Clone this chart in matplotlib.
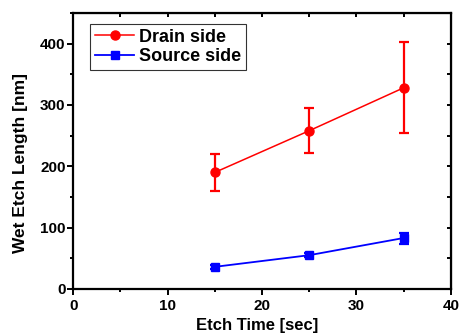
import matplotlib
matplotlib.use("Agg")
import matplotlib.pyplot as plt
from matplotlib.ticker import MultipleLocator
from matplotlib.lines import Line2D

plt.rcParams['font.family'] = ['Liberation Sans', 'DejaVu Sans']
plt.rcParams['font.weight'] = 'bold'

etch_time = [15, 25, 35]
drain = [190, 258, 328]
drain_err = [30, 37, 74]
source = [36, 55, 83]
source_err = [3, 3, 9]

fig = plt.figure(figsize=(4.6, 3.34), dpi=100)
ax = fig.add_axes([0.159, 0.135, 0.821, 0.826])

ax.errorbar(etch_time, drain, yerr=drain_err, color='#ff0000', marker='o', markersize=6.5,
            lw=1.1, elinewidth=1.6, capsize=3.5, capthick=1.6)
ax.errorbar(etch_time, source, yerr=source_err, color='#0000ff', marker='s', markersize=6,
            lw=1.3, elinewidth=1.6, capsize=3.5, capthick=1.6)

ax.set_xlim(0, 40)
ax.set_ylim(0, 450)
ax.xaxis.set_major_locator(MultipleLocator(10))
ax.xaxis.set_minor_locator(MultipleLocator(5))
ax.yaxis.set_major_locator(MultipleLocator(100))
ax.yaxis.set_minor_locator(MultipleLocator(50))

for s in ax.spines.values():
    s.set_linewidth(1.6)

ax.tick_params(which='both', direction='out', width=1.4, labelsize=11)
ax.tick_params(axis='x', pad=2.5)
ax.tick_params(axis='y', pad=1)
ax.tick_params(which='major', length=4.5)
ax.tick_params(which='minor', length=2.5)

# mirrored inward ticks on top/right
axt = ax.secondary_xaxis('top')
axt.xaxis.set_major_locator(MultipleLocator(5))
axt.tick_params(direction='in', length=3, width=1.4, labeltop=False)
axr = ax.secondary_yaxis('right')
axr.yaxis.set_major_locator(MultipleLocator(50))
axr.tick_params(direction='in', length=3, width=1.4, labelright=False)

ax.set_xlabel('Etch Time [sec]', fontsize=12, fontweight='bold')
ax.set_ylabel('Wet Etch Length [nm]', fontsize=12.5, fontweight='bold')
ax.xaxis.set_label_coords(0.486, -0.105)
ax.yaxis.set_label_coords(-0.12, 0.458)

handles = [
    Line2D([], [], color='#ff0000', marker='o', markersize=6.5, lw=1.1),
    Line2D([], [], color='#0000ff', marker='s', markersize=6, lw=1.3),
]
leg = ax.legend(handles, ['Drain side', 'Source side'], loc='upper left',
                bbox_to_anchor=(0.045, 0.96), fontsize=13, frameon=True,
                fancybox=False, edgecolor='black', handlelength=2.2, handletextpad=0.25,
                borderpad=0.25, labelspacing=0.15, borderaxespad=0.0)
leg.get_frame().set_linewidth(0.8)

fig.savefig('out.png', dpi=100)
